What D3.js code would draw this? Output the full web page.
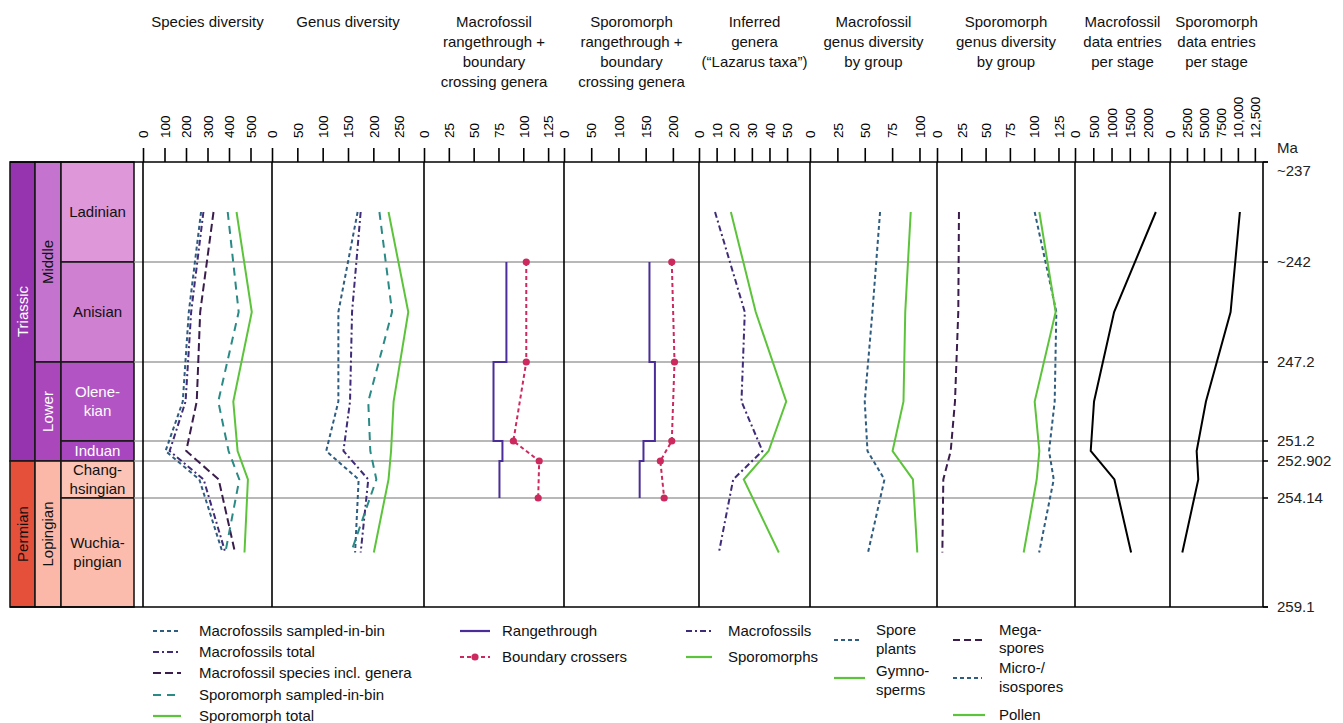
<!DOCTYPE html>
<html><head><meta charset="utf-8">
<script src="https://cdn.jsdelivr.net/npm/d3@7"></script>
<style>body{margin:0;background:#fff;} svg text{font-family:"Liberation Sans",Arial,Helvetica,sans-serif;}</style>
</head><body><svg id="c" width="1343" height="723"></svg>
<script>
// ---------------- DATA ----------------
const stages = ["Ladinian","Anisian","Olenekian","Induan","Changhsingian","Wuchiapingian"];
const stageMidAge = [239.5, 244.6, 249.2, 252.05, 253.52, 256.62];
const boundaryAges = [237, 242, 247.2, 251.2, 252.902, 254.14, 259.1];
const ageLabels = ["~237","~242","247.2","251.2","252.902","254.14","259.1"];
const innerBoundaryAges = [242, 247.2, 251.2, 252.902, 254.14];

// Species diversity
const spMacroSampled = [270, 213, 185, 105, 262, 370];
const spMacroTotal = [281, 224, 198, 124, 282, 383];
const spMacroSpeciesInclGenera = [328, 266, 250, 201, 352, 428];
const spSporoSampled = [394, 445, 350, 398, 448, 383];
const spSporoTotal = [435, 506, 420, 440, 488, 472];
// Genus diversity
const gnMacroSampled = [169, 131, 131, 107, 171, 164];
const gnMacroTotal = [175, 158, 154, 141, 190, 175];
const gnSporoSampled = [212, 237, 190, 194, 206, 156];
const gnSporoTotal = [230, 269, 240, 235, 230, 201];
// Rangethrough + boundary crossers (stages Anisian..Changhsingian; boundaries 242..254.14)
const macroRangethrough = [83, 70, 79, 76];
const macroBoundaryCrossers = [103, 103, 90, 116, 115];
const sporoRangethrough = [157, 167, 146, 139];
const sporoBoundaryCrossers = [198, 203, 198, 177, 184];
// Lazarus taxa
const lazMacro = [9.1, 26, 24.1, 36, 19.4, 11.3];
const lazSporo = [18.1, 32.2, 49.5, 39.5, 25.4, 45.3];
// Macrofossil genus diversity by group
const grpSporePlants = [64, 57, 50, 52.5, 68, 53];
const grpGymnosperms = [92, 87, 85.4, 75.4, 94, 98];
// Sporomorph genus diversity by group
const grpMegaspores = [22.6, 21.9, 18.5, 14.1, 6.5, 5.5];
const grpMicroIsospores = [100.5, 122.8, 121.1, 115.3, 120.1, 105.1];
const grpPollen = [105.3, 122.1, 100.5, 105.3, 102.6, 89.2];
// Data entries per stage
const macroEntries = [2212, 1070, 521, 430, 1078, 1536];
const sporoEntries = [10294, 8926, 5294, 3926, 4167, 1814];

// Tick values and labels
const ticksP1 = [0,100,200,300,400,500];
const ticksP2 = [0,50,100,150,200,250];
const ticksP3 = [0,25,50,75,100,125];
const ticksP4 = [0,50,100,150,200];
const ticksP5 = [0,10,20,30,40,50];
const ticksP6 = [0,25,50,75,100];
const ticksP7 = [0,25,50,75,100,125];
const ticksP8 = [0,500,1000,1500,2000];
const ticksP9 = [0,2500,5000,7500,10000,12500];
const tickLabelsP9 = ["0","2500","5000","7500","10,000","12,500"];

// ---------------- LAYOUT / STYLE ----------------
const svg = d3.select("#c");
const yTop = 162, yBot = 607;
const FS = 15;
const y = d3.scaleLinear().domain(boundaryAges).range([162,262,362,441,461,498,607]);

const C = {
  blue: "#2f5d80", dashdot: "#3f2b78", dpurple: "#3a1d4d", teal: "#2a8a86",
  green: "#5cc43a", indigo: "#4a2d98", crimson: "#cc2a5e", black: "#000"
};
const S = {
  macroSampled: {stroke: C.blue, dash: "4,3"},
  macroTotal: {stroke: C.dashdot, dash: "6,3,2,3"},
  macroSpecies: {stroke: C.dpurple, dash: "8,4"},
  sporoSampled: {stroke: C.teal, dash: "8,6"},
  sporoTotal: {stroke: C.green, dash: null},
  range: {stroke: C.indigo, dash: null},
  crossers: {stroke: C.crimson, dash: "4,3"},
  solidBlack: {stroke: C.black, dash: null}
};

const panels = [
  {title:["Species diversity"], x:[143,272], dom:[0,600], ticks:ticksP1},
  {title:["Genus diversity"], x:[272,424], dom:[0,300], ticks:ticksP2},
  {title:["Macrofossil","rangethrough +","boundary","crossing genera"], x:[424,564], dom:[0,141], ticks:ticksP3},
  {title:["Sporomorph","rangethrough +","boundary","crossing genera"], x:[564,699], dom:[0,248], ticks:ticksP4},
  {title:["Inferred","genera","(\u201cLazarus taxa\u201d)"], x:[699,810], dom:[0,63], ticks:ticksP5},
  {title:["Macrofossil","genus diversity","by group"], x:[810,937], dom:[0,116], ticks:ticksP6},
  {title:["Sporomorph","genus diversity","by group"], x:[937,1075], dom:[0,142], ticks:ticksP7},
  {title:["Macrofossil","data entries","per stage"], x:[1075,1170], dom:[0,2600], ticks:ticksP8},
  {title:["Sporomorph","data entries","per stage"], x:[1170,1263], dom:[0,13700], ticks:ticksP9, labels:tickLabelsP9}
];
panels.forEach(p => p.sx = d3.scaleLinear().domain(p.dom).range(p.x));

// ---------- chronostratigraphy ----------
const chrono = [
  {x0:10,x1:35,a0:237,a1:252.902,fill:"#9634b0",label:"Triassic",tc:"#fff",rot:true},
  {x0:10,x1:35,a0:252.902,a1:259.1,fill:"#e5503b",label:"Permian",tc:"#111",rot:true},
  {x0:35,x1:61,a0:237,a1:247.2,fill:"#c474ce",label:"Middle",tc:"#111",rot:true},
  {x0:35,x1:61,a0:247.2,a1:252.902,fill:"#a947bb",label:"Lower",tc:"#fff",rot:true},
  {x0:35,x1:61,a0:252.902,a1:259.1,fill:"#fbb8a8",label:"Lopingian",tc:"#111",rot:true},
  {x0:61,x1:134,a0:237,a1:242,fill:"#de97d8",label:["Ladinian"],tc:"#111"},
  {x0:61,x1:134,a0:242,a1:247.2,fill:"#cf80d0",label:["Anisian"],tc:"#111"},
  {x0:61,x1:134,a0:247.2,a1:251.2,fill:"#b354c4",label:["Olene-","kian"],tc:"#fff"},
  {x0:61,x1:134,a0:251.2,a1:252.902,fill:"#a846bf",label:["Induan"],tc:"#fff"},
  {x0:61,x1:134,a0:252.902,a1:254.14,fill:"#fcc4b7",label:["Chang-","hsingian"],tc:"#111"},
  {x0:61,x1:134,a0:254.14,a1:259.1,fill:"#fcbcad",label:["Wuchia-","pingian"],tc:"#111"}
];
const cg = svg.append("g");
chrono.forEach(d => {
  const y0 = y(d.a0), y1 = y(d.a1);
  cg.append("rect").attr("x",d.x0).attr("y",y0).attr("width",d.x1-d.x0).attr("height",y1-y0)
    .attr("fill",d.fill).attr("stroke","#1a1a1a").attr("stroke-width",1.6);
  const cx = (d.x0+d.x1)/2, cy = (y0+y1)/2;
  if (d.rot) {
    cg.append("text").attr("transform",`translate(${cx+5},${cy}) rotate(-90)`)
      .attr("text-anchor","middle").attr("font-size",FS).attr("fill",d.tc).text(d.label);
  } else {
    const n = d.label.length, lh = 19;
    d.label.forEach((t,i) => {
      cg.append("text").attr("x",cx).attr("y",cy + (i-(n-1)/2)*lh + 5)
        .attr("text-anchor","middle").attr("font-size",FS).attr("fill",d.tc).text(t);
    });
  }
});

// ---------- gridlines at boundaries ----------
const gg = svg.append("g");
innerBoundaryAges.forEach(a => {
  gg.append("line").attr("x1",134).attr("x2",1268).attr("y1",y(a)).attr("y2",y(a))
    .attr("stroke","#a0a0a0").attr("stroke-width",1.6);
});

// ---------- frame ----------
const fg = svg.append("g");
fg.append("line").attr("x1",10).attr("x2",1268).attr("y1",yTop).attr("y2",yTop).attr("stroke","#000").attr("stroke-width",1.6);
fg.append("line").attr("x1",10).attr("x2",1268).attr("y1",yBot).attr("y2",yBot).attr("stroke","#000").attr("stroke-width",1.6);
const edges = [143].concat(panels.map(p => p.x[1]));
edges.forEach(x => fg.append("line").attr("x1",x).attr("x2",x).attr("y1",yTop).attr("y2",yBot)
  .attr("stroke","#000").attr("stroke-width",1.6));

// ---------- axes + titles ----------
panels.forEach(p => {
  const ax = d3.axisTop(p.sx).tickValues(p.ticks).tickSize(14).tickPadding(10)
    .tickFormat((d,i) => p.labels ? p.labels[i] : String(d));
  const g = svg.append("g").attr("transform",`translate(0,${yTop})`).call(ax);
  g.select(".domain").remove();
  g.selectAll(".tick line").attr("stroke","#000").attr("stroke-width",1.6);
  g.selectAll(".tick text").attr("font-size",13.5).attr("fill","#000")
    .attr("font-family","Liberation Sans, Arial, sans-serif")
    .attr("transform","rotate(-90)").attr("text-anchor","start")
    .attr("x",24).attr("y",0).attr("dy","0.35em");
  const cx = (p.x[0]+p.x[1])/2;
  p.title.forEach((t,i) => svg.append("text").attr("x",cx).attr("y",27+i*20)
    .attr("text-anchor","middle").attr("font-size",FS).attr("fill","#111").text(t));
});

// ---------- right age axis ----------
const ra = svg.append("g");
boundaryAges.forEach((a,i) => {
  ra.append("line").attr("x1",1263).attr("x2",1268).attr("y1",y(a)).attr("y2",y(a)).attr("stroke","#000").attr("stroke-width",1.4);
  const yy = i === 0 ? y(a) + 14 : y(a) + 5;
  ra.append("text").attr("x",1277).attr("y",yy).attr("font-size",FS).attr("fill","#222").text(ageLabels[i]);
});
ra.append("text").attr("x",1277).attr("y",153).attr("font-size",FS).attr("fill","#222").text("Ma");

// ---------- series drawing ----------
function draw(p, vals, st, ages) {
  const line = d3.line().x(d => p.sx(d[0])).y(d => y(d[1]));
  const pts = vals.map((v,i) => [v, (ages||stageMidAge)[i]]);
  const path = svg.append("path").attr("d", line(pts)).attr("fill","none")
    .attr("stroke", st.stroke).attr("stroke-width", 2).attr("stroke-linejoin","miter");
  if (st.dash) path.attr("stroke-dasharray", st.dash);
  return pts;
}
function drawRange(p, vals) {
  const pts = [];
  vals.forEach((v,i) => { pts.push([v, boundaryAges[i+1]]); pts.push([v, boundaryAges[i+2]]); });
  const line = d3.line().x(d => p.sx(d[0])).y(d => y(d[1]));
  svg.append("path").attr("d", line(pts)).attr("fill","none").attr("stroke",C.indigo).attr("stroke-width",2);
}
function drawCrossers(p, vals) {
  const pts = draw(p, vals, S.crossers, innerBoundaryAges);
  svg.append("g").selectAll("circle").data(pts).join("circle")
    .attr("cx", d => p.sx(d[0])).attr("cy", d => y(d[1])).attr("r",3.6).attr("fill",C.crimson);
}

const [P1,P2,P3,P4,P5,P6,P7,P8,P9] = panels;
draw(P1, spMacroSampled, S.macroSampled);
draw(P1, spMacroTotal, S.macroTotal);
draw(P1, spMacroSpeciesInclGenera, S.macroSpecies);
draw(P1, spSporoSampled, S.sporoSampled);
draw(P1, spSporoTotal, S.sporoTotal);

draw(P2, gnMacroSampled, S.macroSampled);
draw(P2, gnMacroTotal, S.macroTotal);
draw(P2, gnSporoSampled, S.sporoSampled);
draw(P2, gnSporoTotal, S.sporoTotal);

drawRange(P3, macroRangethrough);
drawCrossers(P3, macroBoundaryCrossers);
drawRange(P4, sporoRangethrough);
drawCrossers(P4, sporoBoundaryCrossers);

draw(P5, lazMacro, S.macroTotal);
draw(P5, lazSporo, S.sporoTotal);

draw(P6, grpSporePlants, S.macroSampled);
draw(P6, grpGymnosperms, S.sporoTotal);

draw(P7, grpMegaspores, {stroke:C.dpurple, dash:"7,4"});
draw(P7, grpMicroIsospores, S.macroSampled);
draw(P7, grpPollen, S.sporoTotal);

draw(P8, macroEntries, S.solidBlack);
draw(P9, sporoEntries, S.solidBlack);

// ---------- legend ----------
const lg = svg.append("g");
function legItem(x0, x1, ly, st, texts, tx, tys, dot) {
  const l = lg.append("line").attr("x1",x0).attr("x2",x1).attr("y1",ly).attr("y2",ly)
    .attr("stroke",st.stroke).attr("stroke-width",2.2);
  if (st.dash) l.attr("stroke-dasharray", st.dash);
  if (dot) lg.append("circle").attr("cx",(x0+x1)/2).attr("cy",ly).attr("r",3.6).attr("fill",st.stroke);
  texts.forEach((t,i) => lg.append("text").attr("x",tx).attr("y",tys[i]+5).attr("font-size",FS).attr("fill","#111").text(t));
}
legItem(153,181,631,S.macroSampled,["Macrofossils sampled-in-bin"],199,[631]);
legItem(153,181,652,S.macroTotal,["Macrofossils total"],199,[652]);
legItem(153,181,673,S.macroSpecies,["Macrofossil species incl. genera"],199,[673]);
legItem(153,181,695,S.sporoSampled,["Sporomorph sampled-in-bin"],199,[695]);
legItem(153,181,716,S.sporoTotal,["Sporomorph total"],199,[716]);

legItem(460,490,631,S.range,["Rangethrough"],502,[631]);
legItem(460,490,657,S.crossers,["Boundary crossers"],502,[657],true);

legItem(686,712,631,S.macroTotal,["Macrofossils"],728,[631]);
legItem(686,712,657,S.sporoTotal,["Sporomorphs"],728,[657]);

legItem(834,861,640,S.macroSampled,["Spore","plants"],876,[630,649]);
legItem(834,865,678,S.sporoTotal,["Gymno-","sperms"],876,[671,690]);

legItem(953,982,640,{stroke:C.dpurple,dash:"7,4"},["Mega-","spores"],999,[630,648]);
legItem(953,982,678,S.macroSampled,["Micro-/","isospores"],999,[668,687]);
legItem(953,985,715,S.sporoTotal,["Pollen"],999,[715]);
</script></body></html>
